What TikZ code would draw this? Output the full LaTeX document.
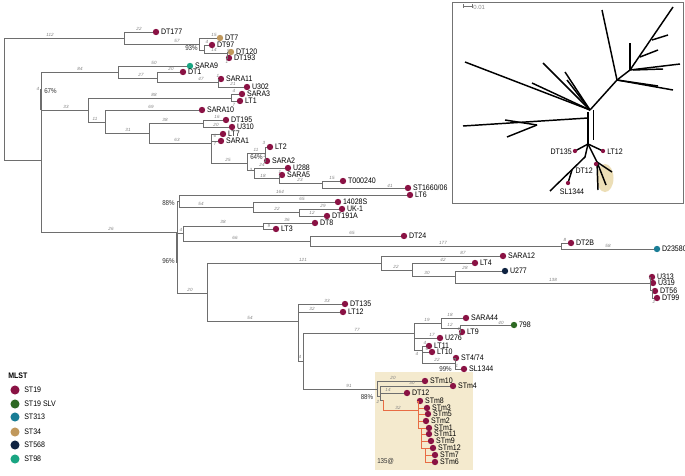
\documentclass[tikz,border=0pt]{standalone}
\usepackage{fontspec}
\setmainfont{Liberation Sans}
\newfontfamily\lfont[FakeStretch=0.88]{Liberation Sans}
\definecolor{st19}{RGB}{138,18,68}
\definecolor{slv}{RGB}{45,105,35}
\definecolor{sttt}{RGB}{25,125,150}
\definecolor{stff}{RGB}{192,152,92}
\definecolor{stfs}{RGB}{15,35,65}
\definecolor{stne}{RGB}{25,165,130}
\definecolor{hl}{RGB}{244,234,206}
\definecolor{hlin}{RGB}{236,222,182}
\definecolor{orng}{RGB}{232,108,68}
\definecolor{brc}{RGB}{110,110,110}
\newcounter{blc}
\newcommand\lf[5]{\node[dot,fill=#5] (#1) at (#2,#3) {};\node[leaflab] (#1t) at ([xshift=1pt]#1.east) {#4};}
\newcommand\bl[3]{\stepcounter{blc}\node[brl] (bl\arabic{blc}) at (#1,#2) {#3};}
\newcommand\ed[2]{\draw[br] (#1) |- (#2);}
\newcommand\eo[2]{\draw[bro] (#1) |- (#2);}
\begin{document}
\begin{tikzpicture}[x=0.75pt,y=-0.75pt,
 br/.style={draw=brc, line width=0.75pt},
 bro/.style={draw=orng, line width=0.75pt},
 dot/.style={circle, inner sep=0pt, minimum size=4.8pt},
 leaflab/.style={anchor=west, inner sep=0pt, font=\lfont\fontsize{6}{7}\selectfont},
 brl/.style={inner sep=0pt, font=\fontsize{3.4}{4}\selectfont\itshape, text=black!50},
 supl/.style={inner sep=0pt, font=\lfont\fontsize{5.3}{6}\selectfont, text=black!80},
 inl/.style={draw=black, line width=1.1pt},
 legdot/.style={circle, inner sep=0pt, minimum size=6.8pt},
 leglab/.style={anchor=west, inner sep=0pt, font=\lfont\fontsize{6}{7}\selectfont},
]
\useasboundingbox (0,0) rectangle (685,475);
\fill[white] (0,0) rectangle (685,475);
% highlight box
\fill[hl] (375,372) rectangle (473,470);

% ---------- coordinates ----------
\coordinate (r0) at (4,38);
\coordinate (a1) at (124,38);
\coordinate (a2) at (199,44);
\coordinate (a3) at (204,50);
\coordinate (a4) at (227,53);
\coordinate (b0) at (41,160);
\coordinate (b1) at (118,72);
\coordinate (b2) at (157,78);
\coordinate (b3) at (218,82);
\coordinate (c0) at (88,110);
\coordinate (c1) at (231,98);
\coordinate (c2) at (105,122);
\coordinate (c3) at (149,133);
\coordinate (c4) at (203,123);
\coordinate (c5) at (211,143);
\coordinate (c6) at (247,163);
\coordinate (c7) at (265,153);
\coordinate (c8) at (254,170);
\coordinate (c9) at (279,178);
\coordinate (c10) at (322,183);
\coordinate (d0) at (177,232);
\coordinate (d1) at (179,201);
\coordinate (d2) at (183,233);
\coordinate (d3) at (207,293);
\coordinate (d4) at (253,207);
\coordinate (d5) at (299,212);
\coordinate (d6) at (263,226);
\coordinate (d7) at (310,241);
\coordinate (d8) at (561,246);
\coordinate (e1) at (381,263);
\coordinate (e2) at (298,321);
\coordinate (e3) at (412,270);
\coordinate (e4) at (455,276);
\coordinate (e5) at (650,283);
\coordinate (e6) at (652,290);
\coordinate (f0) at (303,361);
\coordinate (f1) at (414,333);
\coordinate (f2) at (441,323);
\coordinate (f3) at (460,328);
\coordinate (f4) at (422,350);
\coordinate (f5) at (455,363);
\coordinate (g0) at (377,389);
\coordinate (g1) at (380,396);
\coordinate (g2) at (383,400);
\coordinate (g3) at (418,410);
\coordinate (g4) at (421,428);
\coordinate (g5) at (425,448);

% ---------- leaves ----------
\lf{DTaa}{156}{32}{DT177}{st19}
\lf{DTseven}{220}{38}{DT7}{stff}
\lf{DTnn}{212}{45}{DT97}{st19}
\lf{DTot}{231}{52}{DT120}{stff}
\lf{DTon}{229}{58}{DT193}{st19}
\lf{SARAnine}{190}{66}{SARA9}{stne}
\lf{DTone}{183}{72}{DT1}{st19}
\lf{SARAel}{221}{79}{SARA11}{st19}
\lf{Utt}{247}{87}{U302}{st19}
\lf{SARAthree}{242}{94}{SARA3}{st19}
\lf{LTone}{240}{101}{LT1}{st19}
\lf{SARAten}{202}{110}{SARA10}{st19}
\lf{DTofive}{226}{120}{DT195}{st19}
\lf{Uto}{232}{127}{U310}{st19}
\lf{LTseven}{223}{134}{LT7}{st19}
\lf{SARAone}{221}{141}{SARA1}{st19}
\lf{LTtwo}{270}{147}{LT2}{st19}
\lf{SARAtwo}{267}{161}{SARA2}{st19}
\lf{Uee}{288}{168}{U288}{st19}
\lf{SARAfive}{282}{175}{SARA5}{st19}
\lf{Tzz}{343}{181}{T000240}{st19}
\lf{STsix}{408}{188}{ST1660/06}{st19}
\lf{LTsix}{410}{195}{LT6}{st19}
\lf{Nfour}{338}{202}{14028S}{st19}
\lf{UKone}{342}{209}{UK-1}{st19}
\lf{DTona}{327}{216}{DT191A}{st19}
\lf{DTeight}{315}{223}{DT8}{st19}
\lf{LTthree}{276}{229}{LT3}{st19}
\lf{DTtf}{404}{236}{DT24}{st19}
\lf{DTtb}{571}{243}{DT2B}{st19}
\lf{Dtf}{657}{249}{D23580}{sttt}
\lf{SARAtw}{503}{256}{SARA12}{st19}
\lf{LTfour}{475}{263}{LT4}{st19}
\lf{Utsv}{505}{271}{U277}{stfs}
\lf{Uoth}{652}{277}{U313}{st19}
\lf{Uon}{653}{283}{U319}{st19}
\lf{DTfs}{655}{291}{DT56}{st19}
\lf{DTnine}{657}{298}{DT99}{st19}
\lf{DTotf}{345}{304}{DT135}{st19}
\lf{LTtw}{343}{312}{LT12}{st19}
\lf{SARAff}{466}{318}{SARA44}{st19}
\lf{Nsvn}{514}{325}{798}{slv}
\lf{LTnine}{462}{332}{LT9}{st19}
\lf{Utsx}{440}{338}{U276}{st19}
\lf{LTel}{429}{346}{LT11}{st19}
\lf{LTten}{432}{352}{LT10}{st19}
\lf{STfs}{456}{358}{ST4/74}{st19}
\lf{SLot}{464}{369}{SL1344}{st19}
\lf{STmten}{425}{381}{STm10}{st19}
\lf{STmfour}{453}{386}{STm4}{st19}
\lf{DTtw}{407}{393}{DT12}{st19}
\lf{STmeight}{420}{401}{STm8}{st19}
\lf{STmthree}{427}{408}{STm3}{st19}
\lf{STmfive}{428}{414}{STm5}{st19}
\lf{STmtwo}{426}{421}{STm2}{st19}
\lf{STmone}{429}{428}{STm1}{st19}
\lf{STmel}{429}{434}{STm11}{st19}
\lf{STmnine}{431}{441}{STm9}{st19}
\lf{STmtw}{433}{448}{STm12}{st19}
\lf{STmseven}{435}{455}{STm7}{st19}
\lf{STmsix}{435}{462}{STm6}{st19}

% ---------- edges ----------
\ed{r0}{a1}\ed{r0}{b0}
\ed{a1}{DTaa}\ed{a1}{a2}\ed{a2}{DTseven}\ed{a2}{a3}\ed{a3}{DTnn}\ed{a3}{a4}\ed{a4}{DTot}\ed{a4}{DTon}
\ed{b0}{b1}\ed{b0}{c0}\ed{b0}{d0}
\ed{b1}{SARAnine}\ed{b1}{b2}\ed{b2}{DTone}\ed{b2}{b3}\ed{b3}{SARAel}\ed{b3}{Utt}
\ed{c0}{c1}\ed{c0}{c2}\ed{c1}{SARAthree}\ed{c1}{LTone}
\ed{c2}{SARAten}\ed{c2}{c3}\ed{c3}{c4}\ed{c3}{c5}\ed{c4}{DTofive}\ed{c4}{Uto}
\ed{c5}{LTseven}\ed{c5}{SARAone}\ed{c5}{c6}\ed{c6}{c7}\ed{c6}{c8}
\ed{c7}{LTtwo}\ed{c7}{SARAtwo}\ed{c8}{Uee}\ed{c8}{c9}\ed{c9}{SARAfive}\ed{c9}{c10}
\ed{c10}{Tzz}\ed{c10}{STsix}
\ed{d0}{d1}\ed{d0}{d2}\ed{d0}{d3}
\ed{d1}{LTsix}\ed{d1}{d4}\ed{d4}{Nfour}\ed{d4}{d5}\ed{d5}{UKone}\ed{d5}{DTona}
\ed{d2}{d6}\ed{d2}{d7}\ed{d6}{DTeight}\ed{d6}{LTthree}\ed{d7}{DTtf}\ed{d7}{d8}
\ed{d8}{DTtb}\ed{d8}{Dtf}
\ed{d3}{e1}\ed{d3}{e2}
\ed{e1}{SARAtw}\ed{e1}{e3}\ed{e3}{LTfour}\ed{e3}{e4}\ed{e4}{Utsv}\ed{e4}{e5}
\ed{e5}{Uoth}\ed{e5}{Uon}\ed{e5}{e6}\ed{e6}{DTfs}\ed{e6}{DTnine}
\ed{e2}{DTotf}\ed{e2}{LTtw}\ed{e2}{f0}
\ed{f0}{f1}\ed{f0}{g0}
\ed{f1}{f2}\ed{f1}{Utsx}\ed{f1}{f4}
\ed{f2}{SARAff}\ed{f2}{f3}\ed{f3}{Nsvn}\ed{f3}{LTnine}
\ed{f4}{LTel}\ed{f4}{LTten}\ed{f4}{f5}\ed{f5}{STfs}\ed{f5}{SLot}
\ed{g0}{STmten}\ed{g0}{g1}\ed{g1}{STmfour}\ed{g1}{DTtw}\ed{g1}{g2}
\eo{g2}{g3}
\eo{g3}{STmeight}\eo{g3}{STmthree}\eo{g3}{STmfive}\eo{g3}{STmtwo}\eo{g3}{g4}
\eo{g4}{STmone}\eo{g4}{STmel}\eo{g4}{STmnine}\eo{g4}{g5}
\eo{g5}{STmtw}\eo{g5}{STmseven}\eo{g5}{STmsix}
% thicker node bars
\draw[brc, line width=1.5pt] (41,89) -- (41,110);
\draw[brc, line width=1.5pt] (177,233) -- (177,263);

% ---------- branch labels ----------
\bl{50}{35}{112}\bl{139}{29}{22}\bl{177}{41}{57}\bl{214}{35}{15}\bl{207}{42}{4}
\bl{214}{50}{14}\bl{228.5}{50.5}{9}\bl{227}{62}{1}
\bl{80}{69}{84}\bl{154}{63}{50}\bl{141}{75}{27}\bl{171}{69}{20}\bl{201}{79}{47}
\bl{218}{76}{1}\bl{233}{84}{21}\bl{38}{89}{4}
\bl{66}{107}{33}\bl{154}{95}{88}\bl{234}{91}{4}\bl{234}{105}{7}\bl{95}{119}{11}
\bl{151}{107}{69}\bl{128}{130}{31}\bl{165}{120}{38}\bl{217}{117}{16}\bl{216}{125}{20}
\bl{177}{140}{63}\bl{215}{136}{6}\bl{215}{144}{7}\bl{228}{160}{25}\bl{256}{150}{11}
\bl{264}{143}{3}\bl{265}{156}{2}\bl{251}{170}{3}\bl{262}{165}{24}\bl{263}{176}{18}
\bl{280}{172}{1}\bl{300}{180}{23}\bl{332}{178}{15}\bl{390}{185.5}{41}
\bl{111}{229}{26}\bl{280}{192}{164}\bl{201}{204}{54}\bl{302}{199}{65}\bl{277}{209}{22}
\bl{323}{206}{29}\bl{312}{213}{12}\bl{181}{230}{4}\bl{223}{222}{38}\bl{287}{220}{36}
\bl{269}{226}{9}\bl{235}{238}{66}\bl{352}{233}{65}\bl{443}{243}{177}\bl{565}{240}{8}
\bl{608}{246}{58}\bl{190}{290}{20}
\bl{303}{260}{121}\bl{250}{318}{54}\bl{463}{253}{87}\bl{396}{267}{22}\bl{443}{260}{42}
\bl{427}{273}{30}\bl{465}{268}{28}\bl{553}{280}{138}\bl{654}{302}{2}
\bl{327}{301}{33}\bl{312}{309}{32}\bl{300}{357}{4}\bl{357}{330}{77}\bl{349}{386}{91}
\bl{427}{320}{19}\bl{450}{315}{18}\bl{450}{325}{12}\bl{501}{322.5}{40}\bl{459}{329}{1}
\bl{432}{335}{17}\bl{417}{354}{4}\bl{425}{343}{4}\bl{427}{349}{6}\bl{437}{360}{22}
\bl{457}{366}{1}
\bl{393}{378}{20}\bl{412}{383}{30}\bl{388}{390}{14}\bl{378}{402}{2}\bl{398}{408}{32}

% ---------- support values ----------
\node[supl, anchor=east] (sa) at (198,48) {93\%};
\node[supl, anchor=west] (sb) at (44,91) {67\%};
\node[supl, anchor=east] (sc) at (263,157) {64\%};
\node[supl, anchor=east] (sd) at (175,203) {88\%};
\node[supl, anchor=east] (se) at (175,261) {96\%};
\node[supl] (sf) at (367,397) {88\%};
\node[supl, anchor=east] (sg) at (452,369) {99\%};
\node[supl, anchor=west] (sh) at (377,461) {135@};

% ---------- legend ----------
\node[anchor=west, inner sep=0pt, font=\lfont\bfseries\fontsize{6}{7}\selectfont] (mlst) at (8,376) {MLST};
\node[legdot, fill=st19] (lg1) at (15,390) {};\node[leglab] (lt1) at (24,390) {ST19};
\node[legdot, fill=slv] (lg2) at (15,404) {};\node[leglab] (lt2) at (24,404) {ST19 SLV};
\node[legdot, fill=sttt] (lg3) at (15,417) {};\node[leglab] (lt3) at (24,417) {ST313};
\node[legdot, fill=stff] (lg4) at (15,432) {};\node[leglab] (lt4) at (24,432) {ST34};
\node[legdot, fill=stfs] (lg5) at (15,445) {};\node[leglab] (lt5) at (24,445) {ST568};
\node[legdot, fill=stne] (lg6) at (15,459) {};\node[leglab] (lt6) at (24,459) {ST98};

% ---------- inset ----------
\draw[black!55, line width=0.6pt] (452,2) rectangle (683,203);
\draw[black!55, line width=0.5pt] (463,6) -- (472,6) (463,4) -- (463,8) (472,4) -- (472,8);
\node[anchor=west, inner sep=0pt, font=\fontsize{4.5}{5}\selectfont, text=black!45] (sc01) at (473,7) {0.01};
\fill[hlin] (605,178) ellipse [x radius=8.5, y radius=14];
\draw[inl] (590,110) -- (617,80) -- (602,10);
\draw[inl] (617,80) -- (630,70) -- (673,7);
\draw[inl] (640,57) -- (658,50);
\draw[inl] (652,40) -- (668,35);
\draw[inl] (630,70) -- (630,43);
\draw[inl] (630,70) -- (680,64);
\draw[inl] (633,70) -- (663,69);
\draw[inl] (617,80) -- (673,90);
\draw[inl] (617,80) -- (658,86);
\draw[inl] (590,110) -- (465,62);
\draw[inl] (590,110) -- (543,63);
\draw[inl] (590,110) -- (565,72);
\draw[inl] (590,110) -- (567,80);
\draw[inl] (590,110) -- (532,83);
\draw[inl] (588,118) -- (463,126);
\draw[inl] (537,125) -- (505,120);
\draw[inl] (537,125) -- (507,137);
\draw[inl] (588,112) -- (588,145);
\draw[black, line width=0.6pt] (593,110) -- (593,140);
\draw[inl] (588,144) -- (575,151);
\draw[inl] (588,144) -- (603,151);
\draw[inl] (588,144) -- (585,157) -- (550,191);
\draw[inl] (572,170) -- (568,183);
\draw[inl] (588,144) -- (597,162);
\draw[inl] (597,162) -- (598,190);
\draw[inl] (597,162) -- (612,172);
\draw[inl] (597,162) -- (606,185);
\node[dot, fill=st19, minimum size=3.2pt] (iDTa) at (575,151) {};
\node[dot, fill=st19, minimum size=3.2pt] (iLT) at (603,151) {};
\node[dot, fill=st19, minimum size=3.2pt] (iDTb) at (596,164) {};
\node[dot, fill=st19, minimum size=3.2pt] (iSL) at (568,183) {};
\node[leaflab, anchor=east] (iDTat) at (572,152) {DT135};
\node[leaflab] (iLTt) at (607,152) {LT12};
\node[leaflab, anchor=east] (iDTbt) at (593,171) {DT12};
\node[leaflab, anchor=north] (iSLt) at (572,189) {SL1344};
\end{tikzpicture}
\end{document}
